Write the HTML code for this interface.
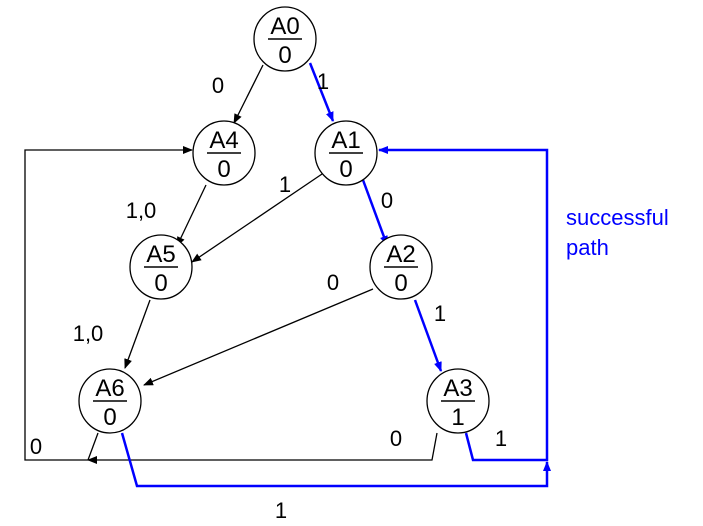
<!DOCTYPE html>
<html><head><style>body{margin:0;background:#fff}svg{display:block}text{font-family:"Liberation Sans",sans-serif}</style></head><body>
<svg width="703" height="526" viewBox="0 0 703 526">
<defs>
<marker id="k" markerWidth="10" markerHeight="8" refX="9" refY="4" orient="auto" markerUnits="userSpaceOnUse"><path d="M0,0L10,4L0,8z" fill="#000"/></marker>
<marker id="b" markerWidth="10" markerHeight="8" refX="9" refY="4" orient="auto" markerUnits="userSpaceOnUse"><path d="M0,0L10,4L0,8z" fill="#00f"/></marker>
</defs>
<g fill="none" stroke="#000" stroke-width="1.3">
<line x1="263" y1="65" x2="234" y2="123" marker-end="url(#k)"/>
<line x1="206" y1="185" x2="177" y2="246" marker-end="url(#k)"/>
<line x1="325" y1="172" x2="192" y2="262" marker-end="url(#k)"/>
<line x1="373" y1="289" x2="144" y2="385" marker-end="url(#k)"/>
<line x1="150" y1="300" x2="125" y2="368" marker-end="url(#k)"/>
<polyline points="98,433 88,460"/>
<polyline points="437,433 432,460 88,460" marker-end="url(#k)"/>
<polyline points="88,460 25,460 25,150 192,150" marker-end="url(#k)"/>
</g>
<g fill="none" stroke="#00f" stroke-width="2.5">
<line x1="310" y1="63" x2="333" y2="121" marker-end="url(#b)"/>
<line x1="363" y1="180" x2="387" y2="245" marker-end="url(#b)"/>
<line x1="415" y1="300" x2="441" y2="371" marker-end="url(#b)"/>
<polyline points="466,433 473,460 547,460 547,150 379,150" marker-end="url(#b)"/>
<polyline points="122,433 137,486 547,486 547,462" marker-end="url(#b)"/>
</g>
<g fill="#fff" stroke="#000" stroke-width="1.3">
<ellipse cx="285" cy="39" rx="31" ry="32"/>
<ellipse cx="224" cy="153" rx="31" ry="32"/>
<ellipse cx="346" cy="153" rx="31" ry="32"/>
<ellipse cx="161" cy="267" rx="31" ry="32"/>
<ellipse cx="401" cy="267" rx="31" ry="32"/>
<ellipse cx="110" cy="401" rx="31" ry="32"/>
<ellipse cx="458" cy="401" rx="31" ry="32"/>
</g>
<g font-size="24" text-anchor="middle" fill="#000">
<text x="285" y="34">A0</text><text x="285" y="63">0</text>
<text x="224" y="148">A4</text><text x="224" y="177">0</text>
<text x="346" y="148">A1</text><text x="346" y="177">0</text>
<text x="161" y="262">A5</text><text x="161" y="291">0</text>
<text x="401" y="262">A2</text><text x="401" y="291">0</text>
<text x="110" y="396">A6</text><text x="110" y="425">0</text>
<text x="458" y="396">A3</text><text x="458" y="425">1</text>
</g>
<g fill="#000" stroke="#000" stroke-width="1.5">
<line x1="268" y1="39" x2="302" y2="39"/><line x1="207" y1="153" x2="241" y2="153"/><line x1="329" y1="153" x2="363" y2="153"/><line x1="144" y1="267" x2="178" y2="267"/><line x1="384" y1="267" x2="418" y2="267"/><line x1="93" y1="401" x2="127" y2="401"/><line x1="441" y1="401" x2="475" y2="401"/>
</g>
<g font-size="22" fill="#000" text-anchor="middle">
<text x="218" y="93">0</text><text x="323" y="89">1</text>
<text x="285" y="192">1</text><text x="141" y="218">1,0</text>
<text x="387" y="208">0</text><text x="333" y="290">0</text>
<text x="440" y="321">1</text><text x="88" y="341">1,0</text>
<text x="36" y="454">0</text><text x="396" y="446">0</text>
<text x="501" y="446">1</text><text x="281" y="518">1</text>
</g>
<g font-size="22" fill="#00f"><text x="566" y="225">successful</text><text x="566" y="255">path</text></g>
</svg>
</body></html>
